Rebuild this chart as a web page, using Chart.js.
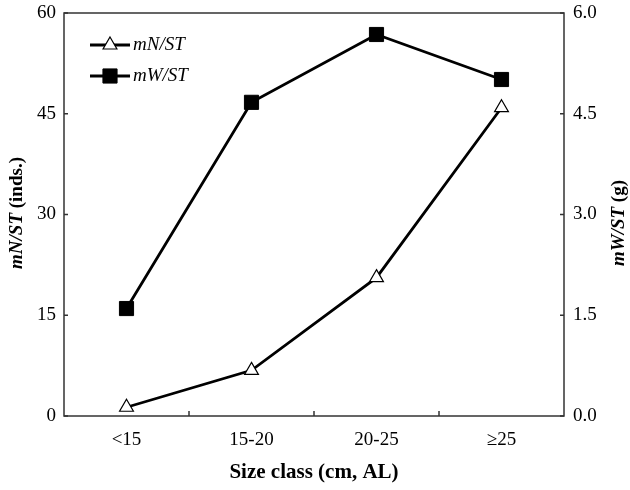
<!DOCTYPE html>
<html lang="en">
<head>
    <meta charset="UTF-8">
    <title>mN/ST and mW/ST by size class</title>
    <script src="https://cdn.jsdelivr.net/npm/chart.js"></script>
    <style>
        html, body { margin: 0; padding: 0; background: #fff; }
        #wrap { width: 630px; height: 490px; }
    </style>
</head>
<body>
    <div id="wrap"><canvas id="chart" width="630" height="490"></canvas></div>
    <script>
        const sizeClasses = ["<15", "15-20", "20-25", "\u226525"];
        const mNST = [1.3, 6.8, 20.6, 45.9];
        const mWST = [1.6, 4.67, 5.68, 5.01];
        const leftTicks = [0, 15, 30, 45, 60];
        const rightTicks = [0, 1.5, 3.0, 4.5, 6.0];

        const serif = "'Liberation Serif', 'Times New Roman', serif";

        // frame, inward ticks, axis titles and legend
        const decorations = {
            id: 'decorations',
            afterDraw(chart) {
                const ctx = chart.ctx;
                const a = chart.chartArea;
                const x = chart.scales.x, y = chart.scales.y, y2 = chart.scales.y2;
                ctx.save();
                ctx.strokeStyle = '#333';
                ctx.lineWidth = 1.5;
                ctx.strokeRect(a.left, a.top, a.right - a.left, a.bottom - a.top);
                ctx.beginPath();
                for (let i = 1; i < sizeClasses.length; i++) {
                    const px = (x.getPixelForValue(i - 1) + x.getPixelForValue(i)) / 2;
                    ctx.moveTo(px, a.bottom); ctx.lineTo(px, a.bottom - 5);
                }
                leftTicks.forEach(v => {
                    const py = y.getPixelForValue(v);
                    ctx.moveTo(a.left, py); ctx.lineTo(a.left + 4, py);
                });
                rightTicks.forEach(v => {
                    const py = y2.getPixelForValue(v);
                    ctx.moveTo(a.right, py); ctx.lineTo(a.right - 4, py);
                });
                ctx.stroke();

                // axis titles
                ctx.fillStyle = '#000';
                ctx.textBaseline = 'middle';
                function mixedTitle(cx, cy, parts, rotate) {
                    ctx.save();
                    ctx.translate(cx, cy);
                    if (rotate) ctx.rotate(-Math.PI / 2);
                    let total = 0;
                    parts.forEach(p => { ctx.font = p.font; total += ctx.measureText(p.text).width; });
                    let pos = -total / 2;
                    ctx.textAlign = 'left';
                    parts.forEach(p => {
                        ctx.font = p.font;
                        ctx.fillText(p.text, pos, 0);
                        pos += ctx.measureText(p.text).width;
                    });
                    ctx.restore();
                }
                mixedTitle(17, 213, [
                    { text: 'mN/ST', font: 'italic bold 19px ' + serif },
                    { text: ' (inds.)', font: 'bold 19px ' + serif }
                ], true);
                mixedTitle(619, 223, [
                    { text: 'mW/ST', font: 'italic bold 19px ' + serif },
                    { text: ' (g)', font: 'bold 19px ' + serif }
                ], true);
                mixedTitle((a.left + a.right) / 2, 473, [
                    { text: 'Size class (cm, AL)', font: 'bold 21px ' + serif }
                ], false);

                // legend
                const rows = [45, 76];
                chart.data.datasets.forEach((ds, i) => {
                    const ly = rows[i];
                    ctx.strokeStyle = '#000';
                    ctx.lineWidth = 2.8;
                    ctx.beginPath();
                    ctx.moveTo(90, ly); ctx.lineTo(130, ly);
                    ctx.stroke();
                    ctx.fillStyle = ds.pointBackgroundColor;
                    ctx.lineWidth = ds.pointBorderWidth;
                    Chart.helpers.drawPoint(ctx, {
                        pointStyle: ds.pointStyle,
                        radius: ds.pointRadius,
                        borderWidth: ds.pointBorderWidth
                    }, 110, ly);
                    ctx.fillStyle = '#000';
                    ctx.font = 'italic 19px ' + serif;
                    ctx.textAlign = 'left';
                    ctx.fillText(ds.label, 133, ly);
                });
                ctx.restore();
            }
        };

        function fixWidth(w) {
            return s => { s.width = w; s.paddingTop = 0; s.paddingBottom = 0; };
        }

        const ctx = document.getElementById('chart').getContext('2d');
        new Chart(ctx, {
            type: 'line',
            data: {
                labels: sizeClasses,
                datasets: [{
                    label: 'mN/ST',
                    data: mNST,
                    yAxisID: 'y',
                    borderColor: '#000',
                    borderWidth: 2.8,
                    pointStyle: 'triangle',
                    pointRadius: 8,
                    pointBackgroundColor: '#fff',
                    pointBorderColor: '#000',
                    pointBorderWidth: 1.2,
                    tension: 0
                }, {
                    label: 'mW/ST',
                    data: mWST,
                    yAxisID: 'y2',
                    borderColor: '#000',
                    borderWidth: 2.8,
                    pointStyle: 'rect',
                    pointRadius: 10,
                    pointBackgroundColor: '#000',
                    pointBorderColor: '#000',
                    pointBorderWidth: 1,
                    tension: 0
                }]
            },
            options: {
                responsive: false,
                animation: false,
                events: [],
                layout: { padding: { top: 13, left: 0, right: 0, bottom: 0 } },
                plugins: {
                    legend: { display: false },
                    tooltip: { enabled: false }
                },
                scales: {
                    x: {
                        offset: true,
                        grid: { display: false, drawTicks: false },
                        border: { display: false },
                        ticks: { color: '#000', padding: 13, font: { family: serif, size: 19 } },
                        afterFit(s) { s.height = 74; s.paddingLeft = 0; s.paddingRight = 0; }
                    },
                    y: {
                        position: 'left',
                        min: 0, max: 60,
                        afterBuildTicks(s) { s.ticks = leftTicks.map(v => ({ value: v })); },
                        grid: { display: false, drawTicks: false },
                        border: { display: false },
                        ticks: { color: '#000', padding: 8, font: { family: serif, size: 19 } },
                        afterFit: fixWidth(64)
                    },
                    y2: {
                        position: 'right',
                        min: 0, max: 6,
                        afterBuildTicks(s) { s.ticks = rightTicks.map(v => ({ value: v })); },
                        grid: { display: false, drawTicks: false },
                        border: { display: false },
                        ticks: {
                            color: '#000', padding: 9, font: { family: serif, size: 19 },
                            callback: v => v.toFixed(1)
                        },
                        afterFit: fixWidth(66)
                    }
                }
            },
            plugins: [decorations]
        });
    </script>
</body>
</html>
